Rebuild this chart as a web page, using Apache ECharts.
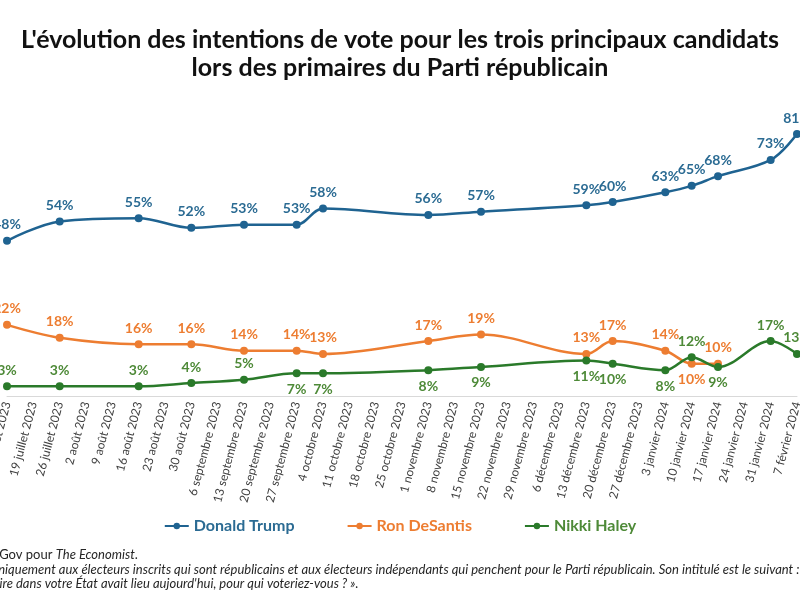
<!DOCTYPE html>
<html>
<head>
<meta charset="utf-8">
<script src="https://cdn.jsdelivr.net/npm/echarts@6/dist/echarts.min.js"></script>
<style>html,body{margin:0;padding:0;background:#fff;}#c{width:800px;height:600px;}</style>
</head>
<body>
<div id="c"></div>
<script>
const categories = ['12 juillet 2023','19 juillet 2023','26 juillet 2023','2 août 2023','9 août 2023','16 août 2023','23 août 2023','30 août 2023','6 septembre 2023','13 septembre 2023','20 septembre 2023','27 septembre 2023','4 octobre 2023','11 octobre 2023','18 octobre 2023','25 octobre 2023','1 novembre 2023','8 novembre 2023','15 novembre 2023','22 novembre 2023','29 novembre 2023','6 décembre 2023','13 décembre 2023','20 décembre 2023','27 décembre 2023','3 janvier 2024','10 janvier 2024','17 janvier 2024','24 janvier 2024','31 janvier 2024','7 février 2024'];
const pollDates = ['12 juillet 2023','26 juillet 2023','16 août 2023','30 août 2023','13 septembre 2023','27 septembre 2023','4 octobre 2023','1 novembre 2023','15 novembre 2023','13 décembre 2023','20 décembre 2023','3 janvier 2024','10 janvier 2024','17 janvier 2024','31 janvier 2024','7 février 2024'];
const trump    = [48,54,55,52,53,53,58,56,57,59,60,63,65,68,73,81];
const desantis = [22,18,16,16,14,14,13,17,19,13,17,14,10,10,null,null];
const haley    = [3,3,3,4,5,7,7,8,9,11,10,8,12,9,17,13];
const seriesNames = ['Donald Trump','Ron DeSantis','Nikki Haley'];
const titleLines = ["L'évolution des intentions de vote pour les trois principaux candidats", "lors des primaires du Parti républicain"];

// label placement (indices into pollDates) — style only
const desantisBelow = [12];
const haleyBelow = [5,6,7,8,9,10,11,13];

const FONT = 'Lato, "Open Sans", sans-serif';
const lineColors = ['#1F6391','#ED7D31','#2A7A2A'];
const labelColors = ['#2B6B93','#ED7D31','#4E8A38'];

function build(values, below) {
  const out = [];
  values.forEach((v, i) => {
    if (v === null || v === undefined) return;
    const item = { value: [pollDates[i], v] };
    if (below && below.indexOf(i) >= 0) item.label = { position: 'bottom' };
    out.push(item);
  });
  return out;
}

function mkSeries(idx, values, below) {
  return {
    name: seriesNames[idx],
    type: 'line',
    smooth: 0.35,
    symbol: 'circle',
    symbolSize: 8,
    lineStyle: { width: 2.5, color: lineColors[idx] },
    itemStyle: { color: lineColors[idx] },
    label: {
      show: true,
      position: 'top',
      distance: 5,
      formatter: p => p.value[1] + '%',
      color: labelColors[idx],
      fontFamily: FONT,
      fontWeight: 'bold',
      fontSize: 14
    },
    emphasis: { disabled: true },
    data: build(values, below)
  };
}

const titleStyle = { fontFamily: FONT, fontWeight: 'bold', fontSize: 25, lineHeight: 28, color: '#111111' };

const chart = echarts.init(document.getElementById('c'), null, { renderer: 'canvas' });
chart.setOption({
  animation: false,
  backgroundColor: '#ffffff',
  title: [
    { text: titleLines[0], left: 'center', top: 26, padding: 0, textStyle: titleStyle },
    { text: titleLines[1], left: 'center', top: 54, padding: 0, textStyle: titleStyle }
  ],
  legend: {
    top: 513,
    left: 'center',
    itemGap: 52,
    itemWidth: 24,
    itemHeight: 8,
    textStyle: { fontFamily: FONT, fontWeight: 'bold', fontSize: 16 },
    data: seriesNames.map((n, i) => ({ name: n, textStyle: { color: labelColors[i] } }))
  },
  grid: { left: 7, right: 3, top: 105, bottom: 204, containLabel: false, outerBoundsMode: 'none' },
  xAxis: {
    type: 'category',
    data: categories,
    boundaryGap: false,
    axisLine: { show: true, lineStyle: { color: '#D9D9D9', width: 1 } },
    axisTick: { show: false },
    axisLabel: { interval: 0, rotate: 75, fontFamily: FONT, fontSize: 12, color: '#404040', margin: 6 },
    splitLine: { show: false }
  },
  yAxis: {
    type: 'value',
    min: 0,
    max: 90,
    show: false,
    splitLine: { show: false }
  },
  series: [
    mkSeries(0, trump, null),
    mkSeries(1, desantis, desantisBelow),
    mkSeries(2, haley, haleyBelow)
  ],
  graphic: [
    { type: 'text', left: -71, top: 548, silent: true,
      style: { text: 'Source : YouGov pour {i|The Economist}.', font: '13px ' + FONT, fill: '#262626',
        rich: { i: { fontStyle: 'italic', fontFamily: FONT, fontSize: 13, fill: '#262626' } } } },
    { type: 'text', left: -95, top: 563, silent: true,
      style: { text: "Question posée uniquement aux électeurs inscrits qui sont républicains et aux électeurs indépendants qui penchent pour le Parti républicain. Son intitulé est le suivant :", font: 'italic 13px ' + FONT, fill: '#262626' } },
    { type: 'text', left: -65, top: 577, silent: true,
      style: { text: "« Si la primaire dans votre État avait lieu aujourd'hui, pour qui voteriez-vous ? ».", font: 'italic 13px ' + FONT, fill: '#262626' } }
  ]
});
</script>
</body>
</html>
